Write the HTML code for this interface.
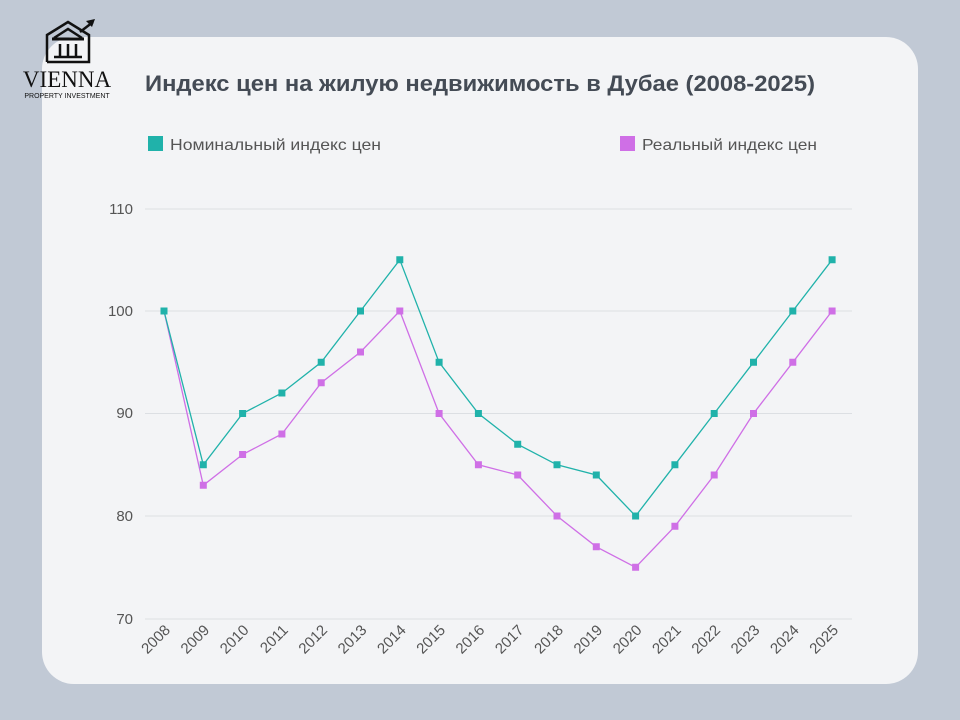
<!DOCTYPE html>
<html><head><meta charset="utf-8"><style>
body{margin:0;width:960px;height:720px;background:#c1c9d5;font-family:"Liberation Sans","DejaVu Sans",sans-serif;overflow:hidden;position:relative}
.card{position:absolute;left:42px;top:37px;width:876px;height:647px;background:#f3f4f6;border-radius:32px}
svg{position:absolute;left:0;top:0}
</style></head><body>
<div class="card"></div>
<svg width="960" height="720" viewBox="0 0 960 720" xmlns="http://www.w3.org/2000/svg">
<g stroke="#111" fill="none" stroke-width="2.5">
<polyline points="47,62 47,35 68,22 89,35 89,62 47,62"/>
<line x1="52" y1="39" x2="84" y2="39" stroke-width="3"/>
<polyline points="54,38 68,29 82,38" />
<line x1="60" y1="44" x2="60" y2="56"/><line x1="68" y1="44" x2="68" y2="56"/><line x1="76" y1="44" x2="76" y2="56"/>
<line x1="54" y1="57" x2="82" y2="57"/>
<polyline points="80,32 93,22" />
</g>
<polygon points="95,19 86,21 92,27" fill="#111"/>
<text x="67" y="87" font-family="Liberation Serif,serif" font-size="23" fill="#111" text-anchor="middle">VIENNA</text>
<text x="67" y="98" font-size="7" fill="#111" text-anchor="middle">PROPERTY INVESTMENT</text>
<text x="145" y="91" font-size="22" font-weight="bold" fill="#444b55" textLength="670" lengthAdjust="spacingAndGlyphs">Индекс цен на жилую недвижимость в Дубае (2008-2025)</text>
<rect x="148" y="136" width="15" height="15" fill="#20b2aa"/>
<text x="170" y="150" font-size="16" fill="#555" textLength="211" lengthAdjust="spacingAndGlyphs">Номинальный индекс цен</text>
<rect x="620" y="136" width="15" height="15" fill="#cf6fe6"/>
<text x="642" y="150" font-size="16" fill="#555" textLength="175" lengthAdjust="spacingAndGlyphs">Реальный индекс цен</text>
<g stroke="#dcdfe3" stroke-width="1">
<line x1="145" y1="209" x2="852" y2="209"/><line x1="145" y1="311" x2="852" y2="311"/>
<line x1="145" y1="413.5" x2="852" y2="413.5"/><line x1="145" y1="516" x2="852" y2="516"/>
<line x1="145" y1="619" x2="852" y2="619"/>
</g>
<g font-size="15" fill="#555" text-anchor="end">
<text x="133" y="214">110</text><text x="133" y="316">100</text><text x="133" y="418">90</text><text x="133" y="521">80</text><text x="133" y="624">70</text>
</g>
<g id="g"></g>
</svg>
<script>
var n=[100,85,90,92,95,100,105,95,90,87,85,84,80,85,90,95,100,105];
var r=[100,83,86,88,93,96,100,90,85,84,80,77,75,79,84,90,95,100];
var s='',X=i=>164+39.3*i,Y=v=>311+(100-v)*10.25;
function ser(d,c){var p=d.map((v,i)=>X(i).toFixed(1)+','+Y(v).toFixed(1)).join(' ');
s+='<polyline points="'+p+'" fill="none" stroke="'+c+'" stroke-width="1.3"/>';
d.forEach((v,i)=>{s+='<rect x="'+(X(i)-3.5)+'" y="'+(Y(v)-3.5)+'" width="7" height="7" fill="'+c+'"/>';});}
ser(r,'#cf6fe6');ser(n,'#20b2aa');
for(var i=0;i<18;i++){var x=X(i)+7,y=631;s+='<text x="'+x+'" y="'+y+'" font-size="15" fill="#555" text-anchor="end" transform="rotate(-45 '+x+' '+y+')">'+(2008+i)+'</text>';}
document.getElementById('g').innerHTML=s;
</script>
</body></html>
